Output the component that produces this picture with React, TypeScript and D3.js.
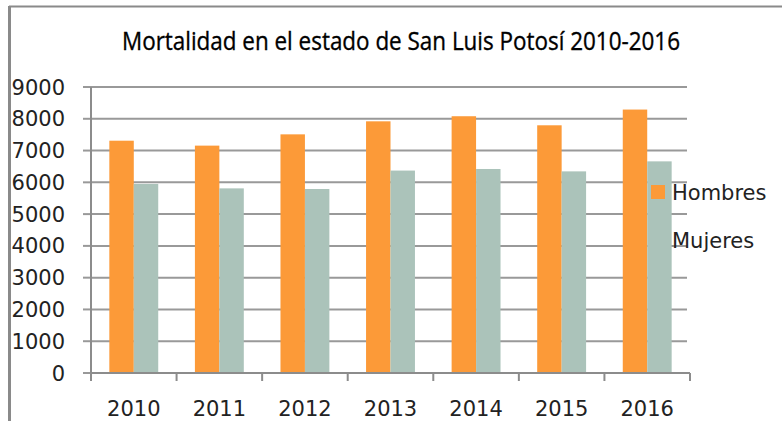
import React from "react";
import * as d3 from "d3";

const years = ["2010", "2011", "2012", "2013", "2014", "2015", "2016"];
const hombres = [7310, 7155, 7510, 7920, 8080, 7795, 8290];
const mujeres = [5950, 5810, 5790, 6370, 6420, 6345, 6660];
const seriesNames = ["Hombres", "Mujeres"];
const yTicks = [0, 1000, 2000, 3000, 4000, 5000, 6000, 7000, 8000, 9000];
const title = "Mortalidad en el estado de San Luis Potosí 2010-2016";

const colors = ["#FC9A38", "#ABC3BA"];
const W = 782, H = 421;
const left = 91, right = 690, top = 87, bottom = 373;
const font = "'DejaVu Sans', Verdana, sans-serif";

export default function App() {
  const x = d3.scaleBand<string>().domain(years).range([left, right]).paddingInner(0).paddingOuter(0);
  const step = x.step();
  const x1 = d3.scaleBand<string>().domain(seriesNames).range([step * 0.75 / 3.5, step * 2.75 / 3.5]).padding(0);
  const y = d3.scaleLinear().domain([0, 9000]).range([bottom, top]);
  const data = [hombres, mujeres];
  const boundaries = years.map((yr) => x(yr)!).concat([right]);

  return (
    <svg width={W} height={H} style={{ position: "absolute", left: 0, top: 0, background: "#fff" }}>
      <rect x={0} y={0} width={W} height={H} fill="#fff" />
      {/* frame */}
      <line x1={9} y1={6.5} x2={W} y2={6.5} stroke="#8a8a8a" strokeWidth={2} />
      <line x1={9.5} y1={6} x2={9.5} y2={H} stroke="#8a8a8a" strokeWidth={3} />
      <text x={401} y={50} textAnchor="middle" fontFamily="'Open Sans', sans-serif" fontSize={25} fill="#000" stroke="#000" strokeWidth={0.35} textLength={558} lengthAdjust="spacingAndGlyphs">{title}</text>
      {/* gridlines */}
      {yTicks.map((t) => (
        <g key={t}>
          {t > 0 && <line x1={left} x2={right - 3} y1={y(t)} y2={y(t)} stroke="#999" strokeWidth={2} />}
          <line x1={left - 8} x2={left} y1={y(t)} y2={y(t)} stroke="#999" strokeWidth={2} />
          <text x={65} y={y(t)} dy="0.36em" textAnchor="end" fontFamily={font} fontSize={21} fill="#222">{t}</text>
        </g>
      ))}
      {/* bars */}
      {years.map((yr, i) => (
        <g key={yr}>
          {seriesNames.map((s, j) => (
            <rect key={s} x={x(yr)! + x1(s)!} y={y(data[j][i])} width={x1.bandwidth()} height={bottom - y(data[j][i])} fill={colors[j]} />
          ))}
        </g>
      ))}
      {/* axes */}
      <line x1={left} x2={left} y1={top} y2={bottom} stroke="#8c8c8c" strokeWidth={2} />
      <line x1={left} x2={right} y1={bottom} y2={bottom} stroke="#8c8c8c" strokeWidth={2} />
      {boundaries.map((b, i) => (
        <line key={i} x1={b} x2={b} y1={bottom} y2={bottom + 8} stroke="#8c8c8c" strokeWidth={2} />
      ))}
      {years.map((yr) => (
        <text key={yr} x={x(yr)! + step / 2} y={416} textAnchor="middle" fontFamily={font} fontSize={21} fill="#222">{yr}</text>
      ))}
      {/* legend */}
      {seriesNames.map((s, j) => (
        <g key={s}>
          <rect x={651} y={185 + j * 49} width={14} height={14} fill={colors[j]} />
          <text x={672} y={200 + j * 48} fontFamily={font} fontSize={21} fill="#222">{s}</text>
        </g>
      ))}
    </svg>
  );
}
